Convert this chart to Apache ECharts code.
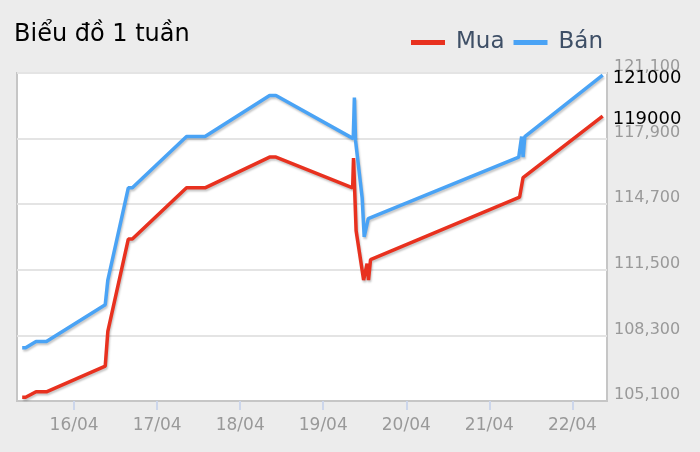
<!DOCTYPE html>
<html>
<head>
<meta charset="utf-8">
<script src="https://cdn.jsdelivr.net/npm/echarts@6/dist/echarts.min.js"></script>
<style>
html,body{margin:0;padding:0;background:#ececec;}
#chart{width:700px;height:452px;}
</style>
</head>
<body>
<div id="chart"></div>
<script>
const seriesNames = ['Mua', 'Bán'];

const muaTimes = [
  '2025-04-15 09:00','2025-04-15 10:00','2025-04-15 13:00','2025-04-15 16:00',
  '2025-04-16 09:00','2025-04-16 09:45','2025-04-16 15:40','2025-04-16 16:50',
  '2025-04-17 08:30','2025-04-17 13:50','2025-04-18 08:30','2025-04-18 10:20',
  '2025-04-19 08:30','2025-04-19 08:45','2025-04-19 09:30','2025-04-19 11:40',
  '2025-04-19 12:40','2025-04-19 13:05','2025-04-19 13:40','2025-04-21 08:45',
  '2025-04-21 09:45','2025-04-22 08:45'
];
const muaValues = [
  105280,105280,105550,105550,
  106800,108500,113000,113000,
  115500,115500,117000,117000,
  115500,116950,113400,111000,
  111800,111000,112000,115050,
  116000,119000
];

const banTimes = [
  '2025-04-15 09:00','2025-04-15 10:00','2025-04-15 13:00','2025-04-15 16:00',
  '2025-04-16 09:00','2025-04-16 09:45','2025-04-16 15:40','2025-04-16 16:50',
  '2025-04-17 08:30','2025-04-17 13:50','2025-04-18 08:30','2025-04-18 10:20',
  '2025-04-19 08:40','2025-04-19 09:00','2025-04-19 09:20','2025-04-19 11:15',
  '2025-04-19 11:50','2025-04-19 13:00','2025-04-21 08:30','2025-04-21 09:20',
  '2025-04-21 09:45','2025-04-21 10:15','2025-04-22 08:45'
];
const banValues = [
  107700,107700,108000,108000,
  109800,111000,115500,115500,
  118000,118000,120000,120000,
  117900,119900,117800,115000,
  113100,114000,117000,118000,
  117000,118000,121000
];

const xTickDates = ['2025-04-16','2025-04-17','2025-04-18','2025-04-19','2025-04-20','2025-04-21','2025-04-22'];
const xTickLabels = ['16/04','17/04','18/04','19/04','20/04','21/04','22/04'];
const xRangeStart = '2025-04-15 07:30';
const xRangeEnd = '2025-04-22 10:00';

const yMin = 105100, yMax = 121100, yStep = 3200;

function toTs(s){
  const p = s.split(/[- :]/).map(Number);
  return new Date(p[0], p[1]-1, p[2], p[3]||0, p[4]||0).getTime();
}
const xTickValues = xTickDates.map(toTs);
function pairs(ts, vs){ return ts.map((t,i)=>[toTs(t), vs[i]]); }

const FONT = 'DejaVu Sans';
const lineShadow = {shadowColor: 'rgba(0,0,0,0.22)', shadowBlur: 2, shadowOffsetX: 1, shadowOffsetY: 2};
const endLbl = {show: true, distance: 10, offset: [0, 3], color: '#000', fontSize: 18, fontFamily: FONT, formatter: p => String(p.value[1])};

const chart = echarts.init(document.getElementById('chart'), null, {renderer:'canvas'});
chart.setOption({
  animation: false,
  backgroundColor: '#ececec',
  textStyle: {fontFamily: FONT},
  title: {
    text: 'Biểu đồ 1 tuần', left: 9, top: 18,
    textStyle: {fontFamily: FONT, fontSize: 24, fontWeight: 'normal', color: '#000'}
  },
  legend: {
    data: seriesNames, left: 406, top: 26, icon: 'rect',
    itemWidth: 34, itemHeight: 5, itemGap: 9,
    textStyle: {fontFamily: FONT, fontSize: 23, color: '#3e4f66', padding: [0, 0, 0, 6]}
  },
  grid: {
    left: 17, right: 93, top: 73, bottom: 51,
    show: true, backgroundColor: '#fff', borderColor: '#c6c6c6', borderWidth: 2
  },
  xAxis: {
    type: 'value',
    min: toTs(xRangeStart), max: toTs(xRangeEnd),
    axisLine: {show: true, lineStyle: {color: '#c6c6c6', width: 2}},
    axisTick: {show: true, customValues: xTickValues, length: 9, lineStyle: {color: '#ccd6eb', width: 2}},
    axisLabel: {
      customValues: xTickValues, margin: 16,
      color: '#999', fontSize: 17, fontFamily: FONT,
      formatter: function(v){ const i = xTickValues.indexOf(v); return i >= 0 ? xTickLabels[i] : ''; }
    },
    splitLine: {show: false}
  },
  yAxis: {
    type: 'value', position: 'right',
    min: yMin, max: yMax, interval: yStep,
    axisLine: {show: false}, axisTick: {show: false},
    axisLabel: {
      color: '#999', fontSize: 16, fontFamily: FONT, margin: 7,
      verticalAlign: 'bottom', lineHeight: 12,
      formatter: v => v.toLocaleString('en-US')
    },
    splitLine: {lineStyle: {color: '#e4e4e4', width: 2}}
  },
  series: [
    {
      name: seriesNames[0], type: 'line', showSymbol: false, symbol: 'none',
      data: pairs(muaTimes, muaValues),
      color: '#e8311f',
      lineStyle: Object.assign({width: 3.5, color: '#e8311f'}, lineShadow),
      endLabel: endLbl
    },
    {
      name: seriesNames[1], type: 'line', showSymbol: false, symbol: 'none',
      data: pairs(banTimes, banValues),
      color: '#4aa3f5',
      lineStyle: Object.assign({width: 3.5, color: '#4aa3f5'}, lineShadow),
      endLabel: endLbl
    }
  ]
});
</script>
</body>
</html>
